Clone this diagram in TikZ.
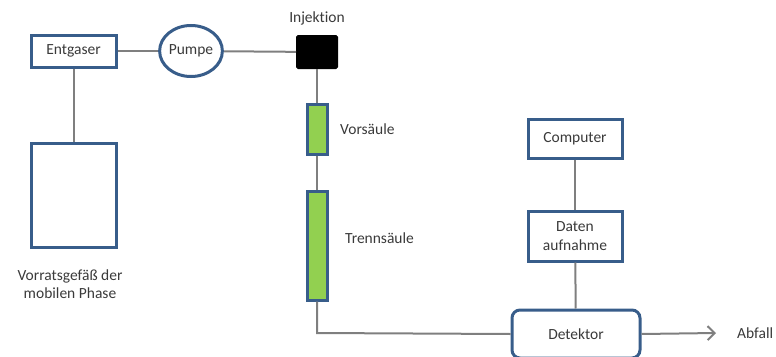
\documentclass[tikz,border=0pt]{standalone}
\usepackage{fontspec}
\setmainfont[Ligatures=NoCommon]{Carlito}
\usetikzlibrary{arrows.meta,shapes.geometric}
\definecolor{bord}{HTML}{385D8A}
\definecolor{grn}{HTML}{92D050}
\definecolor{ln}{HTML}{7F7F7F}
\definecolor{txt}{HTML}{3A3A3A}
\tikzset{
  box/.style={draw=bord, line width=3pt, fill=white, inner sep=0pt, text=txt, align=center},
  col/.style={draw=bord, line width=3pt, fill=grn, inner sep=0pt},
  lbl/.style={text=txt, inner sep=0pt, align=center},
  conn/.style={draw=ln, line width=2pt},
}
\begin{document}
\begin{tikzpicture}[x=1pt,y=-1pt, font=\fontsize{15.5}{19}\selectfont]
\useasboundingbox (0,0) rectangle (776,356);
\begin{scope}
\clip (0,0) rectangle (776,356);
\node[box, minimum width=85pt, minimum height=32pt] (ent) at (73.5,51) {Entgaser};
\node[box, ellipse, minimum width=60pt, minimum height=51pt] (pump) at (191,51) {Pumpe};
\node[draw=black, fill=black, line width=1pt, rounded corners=1.5pt, minimum width=41pt, minimum height=33pt, inner sep=0pt] (inj) at (317,52) {};
\node[lbl, anchor=south] (injl) at (317,25) {Injektion};
\node[col, minimum width=20pt, minimum height=50pt] (vor) at (317,129) {};
\node[lbl, anchor=west] (vorl) at (340,129) {Vorsäule};
\node[col, minimum width=20pt, minimum height=109pt] (tren) at (317,245.5) {};
\node[lbl, anchor=west] (trenl) at (345,238) {Trennsäule};
\node[box, minimum width=85pt, minimum height=104pt] (vorr) at (73.5,195) {};
\node[lbl, font=\fontsize{15.5}{18}\selectfont] (vorrl) at (70,284) {Vorratsgefäß der\\mobilen Phase};
\node[box, minimum width=94pt, minimum height=39pt] (comp) at (575,138.5) {Computer};
\node[box, minimum width=94pt, minimum height=50pt, font=\fontsize{15.5}{19}\selectfont] (dat) at (575,236) {Daten\\aufnahme};
\node[box, rounded corners=8pt, minimum width=128pt, minimum height=48pt] (det) at (576,334) {Detektor};
\node[lbl, anchor=west] (abf) at (737,333) {Abfall};
\coordinate (bend) at (317,333);
\coordinate (waste) at (716,333);
\end{scope}
\draw[conn] (ent) -- (pump);
\draw[conn] (pump) -- (inj);
\draw[conn] (ent) -- (vorr);
\draw[conn] (inj) -- (vor);
\draw[conn] (vor) -- (tren);
\draw[conn] (tren.south) -- (bend) -- (det.west);
\draw[conn] (comp) -- (dat);
\draw[conn] (dat) -- (det);
\draw[conn, -{Straight Barb[length=7pt, width=14pt, line width=2pt]}] (det.east) -- (waste);
\end{tikzpicture}
\end{document}
